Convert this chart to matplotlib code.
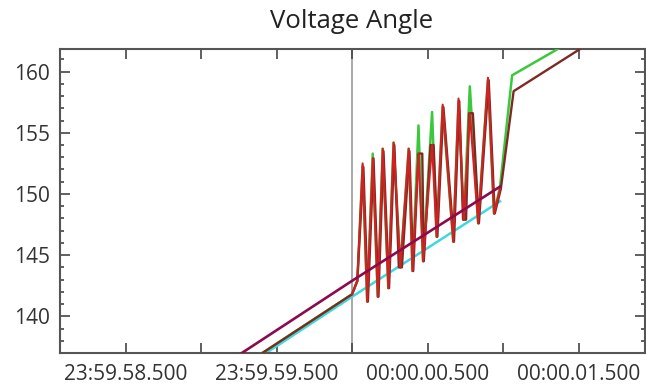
import matplotlib
matplotlib.use("Agg")
import matplotlib.pyplot as plt
from matplotlib.ticker import FixedLocator, MultipleLocator

# time in seconds relative to 00:00:00.000
ramp_t = [-1.2, 0.0, 0.98]
magenta_v = [133.2, 142.9, 150.6]
cyan_v = [131.9, 141.6, 149.4]

osc_t = [-1.2, 0.0, 0.035, 0.07, 0.10, 0.137, 0.17, 0.203, 0.24, 0.275, 0.32,
         0.375, 0.40, 0.44, 0.47, 0.53, 0.56, 0.60, 0.67, 0.705, 0.74, 0.78,
         0.835, 0.90, 0.94, 0.98, 1.06, 1.51, 1.9]
green_v = [132.1, 141.8, 142.9, 152.3, 141.2, 153.3, 141.6, 153.7, 142.3, 154.2, 144.0,
           153.7, 143.7, 155.6, 144.5, 156.7, 146.5, 157.1, 146.1, 157.6, 147.9, 158.8,
           147.6, 159.3, 148.4, 150.6, 159.7, 162.9, 165.5]

red_t = [0.0, 0.035, 0.07, 0.10, 0.137, 0.17, 0.203, 0.24, 0.275, 0.32,
         0.375, 0.40, 0.44, 0.47, 0.53, 0.56, 0.60, 0.67, 0.705, 0.74, 0.78,
         0.835, 0.90, 0.94, 0.98]
red_v = [141.8, 142.9, 152.5, 141.2, 152.9, 141.6, 153.7, 142.3, 154.2, 144.0,
         153.7, 143.7, 153.3, 144.5, 154.0, 146.5, 157.3, 146.1, 157.8, 147.9, 156.6,
         147.6, 159.5, 148.4, 150.4]

dark_t = [-1.2, 0.0, 0.035, 0.075, 0.105, 0.142, 0.175, 0.208, 0.245, 0.28, 0.31, 0.33,
          0.38, 0.405, 0.44, 0.465, 0.475, 0.52, 0.54, 0.565, 0.605, 0.675, 0.71, 0.735,
          0.755, 0.775, 0.80, 0.84, 0.905, 0.945, 0.985, 1.07, 1.51, 1.9]
dark_v = [132.1, 141.8, 142.9, 152.2, 141.2, 152.9, 141.6, 153.5, 142.3, 154.0, 144.0, 144.0,
          153.5, 143.7, 153.3, 153.3, 144.5, 154.0, 154.0, 146.5, 157.1, 146.1, 157.6, 147.9,
          147.9, 156.6, 156.6, 147.6, 159.3, 148.4, 150.4, 158.4, 161.85, 164.8]

tick_pos = [-1.5, -0.5, 0.5, 1.5]
tick_labels = ["23:59.58.500", "23:59.59.500", "00:00.00.500", "00:00.01.500"]

plt.rcParams['font.family'] = ['Open Sans', 'DejaVu Sans']
fig = plt.figure(figsize=(6.46, 3.90), dpi=100)
ax = fig.add_axes([60/646, 1 - 353/390, 585/646, 304/390])

ax.axvline(0.0, color="#9a9a9a", lw=1.2, zorder=1)
ax.plot(ramp_t, cyan_v, color="#40d8e0", lw=1.8, zorder=2)
ax.plot(osc_t, green_v, color="#3cc83c", lw=1.8, zorder=3)
ax.plot(dark_t, dark_v, color="#7e2a24", lw=1.7, zorder=4)
ax.plot(red_t, red_v, color="#d02222", lw=1.5, zorder=5)
ax.plot(ramp_t, magenta_v, color="#8c0a4c", lw=1.9, zorder=6)

ax.set_xlim(-1.934, 1.94)
ax.set_ylim(137.0, 161.85)

ax.xaxis.set_major_locator(MultipleLocator(0.5))
ax.set_xticks(tick_pos, labels=tick_labels)
ax.xaxis.set_minor_locator(FixedLocator([-1.0, 0.0, 1.0]))
ax.yaxis.set_major_locator(MultipleLocator(5))
ax.yaxis.set_minor_locator(MultipleLocator(1))

ax.tick_params(axis="both", which="both", direction="in", top=True, right=True,
               color="#444444", width=1.2, labelsize=15, labelcolor="#333333")
ax.tick_params(axis="x", which="major", length=7, pad=8)
ax.tick_params(axis="x", which="minor", length=7)
ax.tick_params(axis="y", which="major", length=7, pad=7)
ax.tick_params(axis="y", which="minor", length=3)
for s in ax.spines.values():
    s.set_color("#555555")
    s.set_linewidth(1.5)

fig.text(352/646, 1 - 21/390, "Voltage Angle", ha="center", va="center",
         fontsize=18.5, color="#222222")

fig.savefig("out.png", dpi=100)
